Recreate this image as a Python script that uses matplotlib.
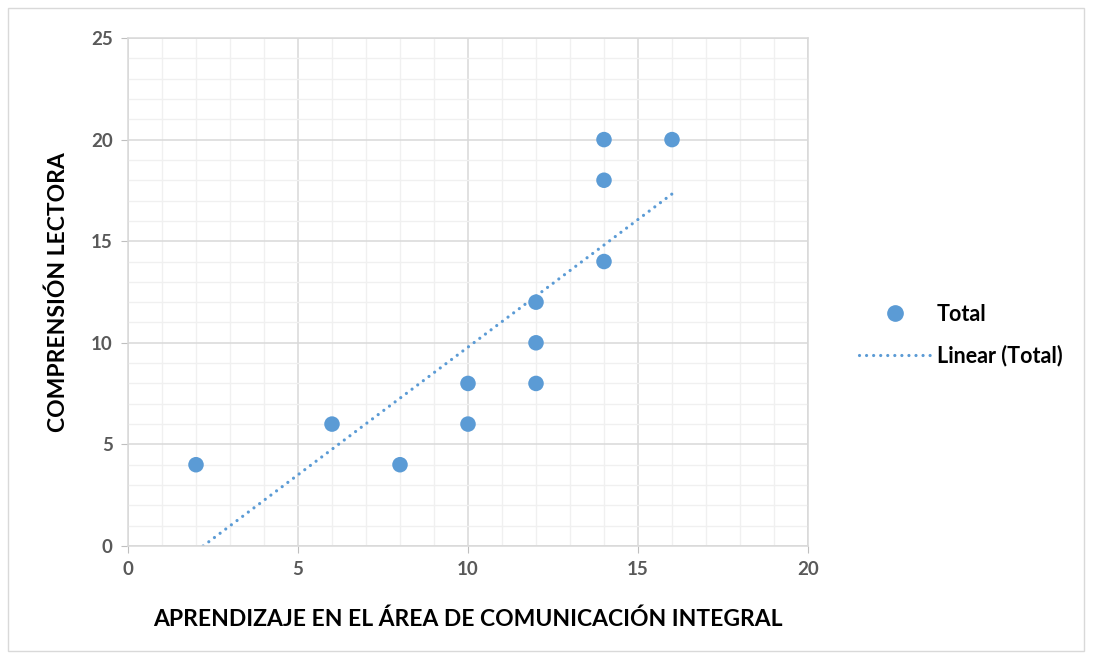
import numpy as np
import matplotlib.pyplot as plt
from matplotlib.patches import Rectangle
from matplotlib.lines import Line2D

# data
aprendizaje = [2, 6, 8, 10, 10, 12, 12, 12, 14, 14, 14, 16]
comprension = [4, 6, 4, 8, 6, 12, 10, 8, 20, 18, 14, 20]
x_ticks = [0, 5, 10, 15, 20]
y_ticks = [0, 5, 10, 15, 20, 25]

blue = '#5b9bd5'
grey_txt = '#595959'
dots = (0, (0.01, 2.2))
plt.rcParams['font.family'] = ['Lato', 'DejaVu Sans']

fig = plt.figure(figsize=(10.93, 6.59), dpi=100)
ax = fig.add_axes([128/1093, 1 - 546/659, 680/1093, 508/659])

# chart border
fig.patches.append(Rectangle((8/1093, 8/659), 1076/1093, 643/659, transform=fig.transFigure,
                             fill=False, edgecolor='#d9d9d9', linewidth=1))

ax.set_xlim(0, 20)
ax.set_ylim(0, 25)
ax.set_xticks(x_ticks)
ax.set_yticks(y_ticks)
ax.set_xticks(np.arange(0, 21, 1), minor=True)
ax.set_yticks(np.arange(0, 26, 1), minor=True)
ax.grid(which='major', color='#d9d9d9', linewidth=1.1, zorder=0)
ax.grid(which='minor', color='#f0f0f0', linewidth=1.0, zorder=0)
ax.set_axisbelow(True)
for s in ax.spines.values():
    s.set_color('#d9d9d9')
    s.set_linewidth(1.1)
ax.tick_params(which='major', length=5, color='#bfbfbf', labelcolor=grey_txt, labelsize=13.5, pad=6)
ax.tick_params(which='minor', length=0)
for lab in ax.get_xticklabels() + ax.get_yticklabels():
    lab.set_fontweight('bold')

ax.scatter(aprendizaje, comprension, s=125, color=blue, zorder=3, edgecolors='none')

# linear trend
m, b = np.polyfit(aprendizaje, comprension, 1)
x0 = max(min(aprendizaje), -b / m)
xs = np.array([x0, max(aprendizaje)])
ax.plot(xs, m * xs + b, color=blue, linestyle=dots, linewidth=2.3,
        dash_capstyle='round', zorder=2)

ax.set_xlabel('APRENDIZAJE EN EL ÁREA DE COMUNICACIÓN INTEGRAL', fontsize=16.5,
              fontweight='bold', color='black', labelpad=22)
ax.set_ylabel('COMPRENSIÓN LECTORA', fontsize=16.5, fontweight='bold', color='black', labelpad=16)

handles = [Line2D([], [], marker='o', color=blue, linestyle='none', markersize=11),
           Line2D([], [], color=blue, linestyle=dots, linewidth=2.3, dash_capstyle='round')]
leg = fig.legend(handles, ['Total', 'Linear (Total)'], loc='center left',
                 bbox_to_anchor=(840/1093, 1 - 335/659), frameon=False,
                 prop={'size': 15.5, 'weight': 'bold'}, handlelength=3.3, labelspacing=0.9,
                 handletextpad=0.3)

fig.savefig('out.png', dpi=100)
